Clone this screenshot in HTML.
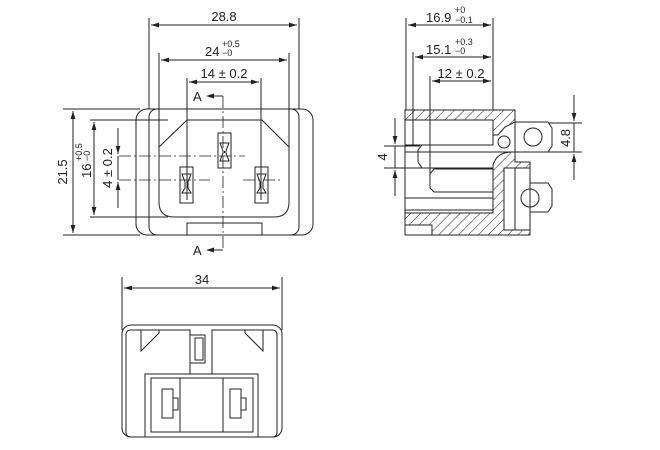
<!DOCTYPE html>
<html><head><meta charset="utf-8"><style>html,body{margin:0;padding:0;background:#fff}svg{display:block}</style></head><body>
<svg width="660" height="450" viewBox="0 0 660 450" xmlns="http://www.w3.org/2000/svg" font-family="Liberation Sans, sans-serif" fill="none" stroke="#222" stroke-width="1">
<defs>
<pattern id="h" width="7" height="7" patternUnits="userSpaceOnUse" patternTransform="rotate(45)"><line x1="0" y1="0" x2="0" y2="7" stroke="#222" stroke-width="1"/></pattern>
<marker id="a" viewBox="0 0 10 6" refX="10" refY="3" markerWidth="8" markerHeight="5" orient="auto-start-reverse"><path d="M0,0L10,3L0,6z" fill="#222" stroke="none"/></marker>
</defs>
<!-- FRONT VIEW -->
<g>
<line x1="149" y1="18" x2="149" y2="109"/><line x1="299" y1="18" x2="299" y2="109"/>
<line x1="151" y1="25" x2="297" y2="25" marker-start="url(#a)" marker-end="url(#a)"/>
<line x1="159" y1="53" x2="159" y2="147"/><line x1="289" y1="53" x2="289" y2="147"/>
<line x1="161" y1="60" x2="287" y2="60" marker-start="url(#a)" marker-end="url(#a)"/>
<line x1="187" y1="78" x2="187" y2="200"/><line x1="261" y1="78" x2="261" y2="200"/>
<line x1="189" y1="82" x2="259" y2="82" marker-start="url(#a)" marker-end="url(#a)"/>
<rect x="136" y="109" width="177" height="126" rx="11"/>
<rect x="149" y="109" width="150" height="126" rx="8"/>
<path d="M187,120 L262,120 L289,147 L289,202 Q289,217 274,217 L174,217 Q159,217 159,202 L159,147 Z"/>
<rect x="187" y="223" width="75" height="12"/>
<rect x="218" y="133" width="13" height="35"/><path d="M220,143 L229,143 L226,151 L226,153 L229,161 L220,161 L223,153 L223,151Z"/><line x1="224.5" y1="151" x2="224.5" y2="153"/>
<rect x="180" y="167" width="13" height="36"/><path d="M182,174 L191,174 L188,182 L188,188 L191,193 L182,193 L185,188 L185,182Z"/>
<rect x="255" y="167" width="13" height="36"/><path d="M257,174 L266,174 L263,182 L263,188 L266,193 L257,193 L260,188 L260,182Z"/>
<g stroke-dasharray="12,3,2,3" stroke-width="0.8">
<line x1="119" y1="156" x2="245" y2="156"/><line x1="119" y1="180" x2="210" y2="180"/><line x1="243" y1="180" x2="283" y2="180"/>
<line x1="223" y1="96" x2="223" y2="250"/>
</g>
<line x1="212" y1="96" x2="223" y2="96"/><line x1="212" y1="250" x2="223" y2="250"/>
<path d="M206,96 L214,93.5 L214,98.5Z M206,250 L214,247.5 L214,252.5Z" fill="#222" stroke="none"/>
<text x="193" y="101" font-size="13" fill="#222" stroke="none">A</text>
<text x="193" y="255" font-size="13" fill="#222" stroke="none">A</text>
<line x1="63" y1="109" x2="140" y2="109"/><line x1="63" y1="235" x2="140" y2="235"/>
<line x1="73" y1="111" x2="73" y2="233" marker-start="url(#a)" marker-end="url(#a)"/>
<line x1="90" y1="120" x2="168" y2="120"/><line x1="90" y1="217" x2="168" y2="217"/>
<line x1="94" y1="122" x2="94" y2="215" marker-start="url(#a)" marker-end="url(#a)"/>
<line x1="118" y1="128" x2="118" y2="154" marker-end="url(#a)"/><line x1="118" y1="208" x2="118" y2="182" marker-end="url(#a)"/>
<line x1="118" y1="156" x2="118" y2="180"/>
<g fill="#222" stroke="none" font-size="13">
<text x="224" y="21" text-anchor="middle">28.8</text>
<text x="205" y="56">24</text><text x="222" y="47" font-size="9">+0.5</text><text x="222" y="56" font-size="9">−0</text>
<text x="224" y="78" text-anchor="middle">14 ± 0.2</text>
<text transform="translate(67,172) rotate(-90)" text-anchor="middle">21.5</text>
<text transform="translate(91,178) rotate(-90)">16</text>
<text transform="translate(82,161) rotate(-90)" font-size="9">+0.5</text>
<text transform="translate(90,161) rotate(-90)" font-size="9">−0</text>
<text transform="translate(112,168) rotate(-90)" text-anchor="middle">4 ± 0.2</text>
</g>
</g>
<!-- SIDE VIEW -->
<g>
<line x1="406" y1="18" x2="406" y2="110"/><line x1="493" y1="18" x2="493" y2="110"/>
<line x1="408" y1="25" x2="491" y2="25" marker-start="url(#a)" marker-end="url(#a)"/>
<line x1="413" y1="52" x2="413" y2="145"/>
<line x1="415" y1="57" x2="491" y2="57" marker-start="url(#a)" marker-end="url(#a)"/>
<line x1="430" y1="76" x2="430" y2="188"/>
<line x1="432" y1="81" x2="491" y2="81" marker-start="url(#a)" marker-end="url(#a)"/>
<path d="M405,110 L515,110 L515,162 L530,162 L530,235 L405,235 Z"/>
<path d="M405,110 L515,110 L515,122 L505,127 L498,135 L493,135 L493,120 L405,120Z" fill="url(#h)"/>
<path d="M493,165 Q497,152 512,152 L515,152 L515,162 L530,162 L530,168 L504,168 L504,230 L530,230 L530,235 L432,235 L432,225 L405,225 L405,213 L493,213 Z" fill="url(#h)"/>
<rect x="504" y="168" width="26" height="62" fill="#fff"/><line x1="515" y1="168" x2="515" y2="230"/>
<path d="M405,120 L493,120 L493,145 L405,145"/>
<circle cx="504" cy="142" r="6"/>
<path d="M405,152 L512,152"/>
<path d="M405,145 L422,145 L418,150 L418,162 L422,168 L405,168"/>
<path d="M405,168 L493,168"/>
<path d="M493,169 L434,169 L430,174 L430,188 L434,192 L493,192 L493,169"/>
<line x1="405" y1="198" x2="493" y2="198"/><line x1="405" y1="210" x2="493" y2="210"/>
<path d="M515,122 L548,122 L552,128 L552,146 L548,152 L515,152"/>
<circle cx="533" cy="137" r="9"/>
<path d="M530,183 L548,183 L552,189 L552,206 L548,212 L530,212"/>
<circle cx="530" cy="198" r="9"/>
<line x1="384" y1="146" x2="420" y2="146"/><line x1="384" y1="168" x2="420" y2="168"/>
<line x1="395" y1="118" x2="395" y2="144" marker-end="url(#a)"/><line x1="395" y1="196" x2="395" y2="170" marker-end="url(#a)"/>
<line x1="395" y1="146" x2="395" y2="168"/>
<line x1="548" y1="123" x2="582" y2="123"/><line x1="548" y1="152" x2="582" y2="152"/>
<line x1="574" y1="95" x2="574" y2="121" marker-end="url(#a)"/><line x1="574" y1="180" x2="574" y2="154" marker-end="url(#a)"/>
<line x1="574" y1="123" x2="574" y2="152"/>
<g fill="#222" stroke="none" font-size="13">
<text x="426" y="22">16.9</text><text x="455" y="13" font-size="9">+0</text><text x="455" y="23" font-size="9">−0.1</text>
<text x="426" y="54">15.1</text><text x="455" y="45" font-size="9">+0.3</text><text x="455" y="54" font-size="9">−0</text>
<text x="461" y="78" text-anchor="middle">12 ± 0.2</text>
<text transform="translate(387,157) rotate(-90)" text-anchor="middle">4</text>
<text transform="translate(570,138) rotate(-90)" text-anchor="middle">4.8</text>
</g>
</g>
<!-- BOTTOM VIEW -->
<g>
<line x1="122" y1="277" x2="122" y2="330"/><line x1="282" y1="277" x2="282" y2="330"/>
<line x1="124" y1="288" x2="280" y2="288" marker-start="url(#a)" marker-end="url(#a)"/>
<text x="202" y="284" text-anchor="middle" font-size="13" fill="#222" stroke="none">34</text>
<rect x="122" y="325" width="160" height="112" rx="9"/>
<path d="M145,437 L131,437 Q126,437 126,432 L126,335 Q126,330 131,330 L190,330 L190,374 M212,374 L212,330 L272,330 Q277,330 277,335 L277,432 Q277,437 272,437 L258,437"/>
<path d="M141,330 L141,351 L159,333 L159,330 M263,330 L263,351 L245,333 L245,330"/>
<rect x="145" y="374" width="113" height="63"/>
<rect x="151" y="378" width="102" height="54"/>
<line x1="180" y1="378" x2="180" y2="432"/><line x1="223" y1="378" x2="223" y2="432"/>
<rect x="162" y="389" width="11" height="29"/><rect x="173" y="398" width="5" height="12"/>
<rect x="230" y="389" width="11" height="29"/><rect x="241" y="398" width="5" height="12"/>
<rect x="190" y="335" width="15" height="28"/><rect x="195" y="338" width="8" height="22"/>
</g>
</svg>
</body></html>
